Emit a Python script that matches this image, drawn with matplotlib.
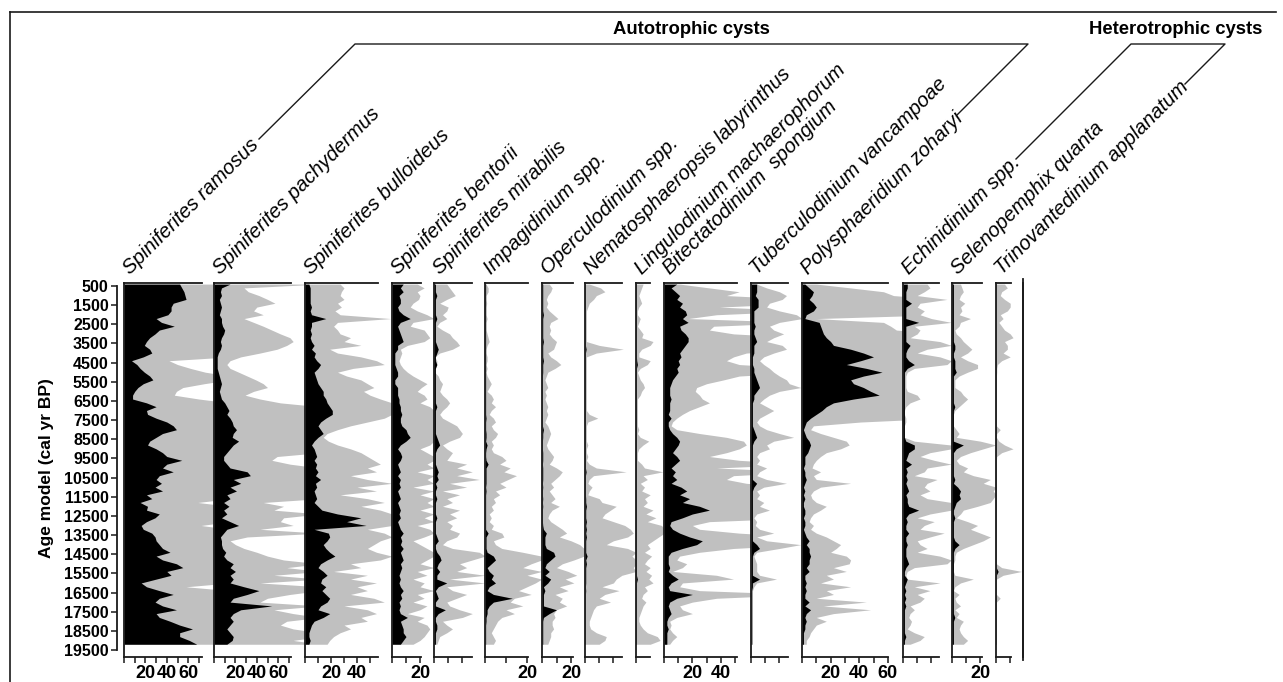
import matplotlib
matplotlib.use('Agg')
import matplotlib.pyplot as plt
from matplotlib.lines import Line2D
import numpy as np

plt.rcParams['font.family'] = ['Liberation Sans', 'DejaVu Sans']

# ---------------- data ----------------
AGES = list(range(400, 19201, 200))   # sample ages, cal yr BP

taxa = ["Spiniferites ramosus", "Spiniferites pachydermus", "Spiniferites bulloideus",
        "Spiniferites bentorii", "Spiniferites mirabilis", "Impagidinium spp.",
        "Operculodinium spp.", "Nematosphaeropsis labyrinthus",
        "Lingulodinium machaerophorum", "Bitectatodinium  spongium",
        "Tuberculodinium vancampoae", "Polysphaeridium zoharyi",
        "Echinidinium spp.", "Selenopemphix quanta", "Trinovantedinium applanatum"]

pct_ramosus = [52,54,56,57,58,46,44,44,41,30, 35,47,33,29,24,21,19,24,26,18,
               7,12,15,19,24,27,18,13,10,8, 8,21,30,21,22,30,40,46,49,36,
               30,24,22,30,36,40,54,40,36,46, 33,30,35,29,36,21,26,15,22,21,
               33,29,21,16,18,26,29,30,33,36, 43,30,36,49,55,40,44,30,16,21,
               33,46,33,29,36,49,30,33,43,52, 64,52,52,61,68]
exg_ramosus = [99]*10 + [99]*10 + \
              [42,50,62,76,99,99,75,55,49,47] + [70]+[99]*9 + [99]*10 + \
              [99,99,99,99,99,99,99,69,99,99] + [99,99,99,72,99,99,99,99,99,99] + \
              [99]*9+[58] + [99]*10 + [99]*5

pct_pachydermus = [15,7,6,7,5,6,7,6,5,7, 7,8,10,9,7,6,7,6,4,3,
                   3,3,3,4,5,6,7,6,5,6, 7,10,12,14,12,15,17,18,21,18,
                   17,23,18,15,12,9,9,12,15,31, 34,18,25,15,21,12,15,9,14,9,
                   12,7,15,23,12,9,6,7,7,8, 11,9,12,18,15,20,15,18,15,28,
                   42,31,18,15,54,25,18,15,18,15, 12,15,18,17,12]
exg_pachydermus = [99,28,32,42,50,57,40,37,46,28, 37,46,54,62,71,74,68,59,43,25,
                   15,12,15,23,31,39,46,50,37,29, 43,62,99,99,99,99,99,99,99,99,
                   99,99,99,99,99,59,54,71,99,99, 99,99,99,99,99,99,99,46,65,56,
                   99,65,62,74,43,99,31,15,20,28, 40,50,65,99,68,99,56,99,43,99,
                   99,71,50,43,99,56,74,99,68,62, 74,99,99,74,99]

pct_bulloideus = [3,4,4,4,4,4,5,4,5,16, 5,5,4,5,4,5,7,5,8,7,
                  9,12,10,7,8,9,10,12,14,14, 16,17,19,21,21,16,12,10,12,14,
                  10,7,5,7,8,9,7,9,8,10, 8,12,8,9,7,8,9,7,10,13,
                  25,43,32,47,7,18,19,17,14,16, 19,23,17,12,10,14,17,13,12,16,
                  13,16,19,17,12,10,19,14,7,5, 4,3,3,4,3]
exg_bulloideus = [27,30,28,27,30,25,28,23,27,66, 25,22,25,27,35,30,43,19,25,43,
                  55,61,37,25,32,43,48,53,45,50, 58,67,67,67,67,61,48,35,25,17,
                  14,18,25,35,43,48,53,58,48,55, 35,48,67,40,55,27,48,61,43,58,
                  67,67,67,67,48,61,67,58,53,48, 55,67,58,35,43,22,48,35,55,40,
                  48,35,53,61,30,48,55,43,48,30, 35,27,22,19,17]

pct_bentorii = [8,6,8,5,6,6,4,5,8,13, 6,4,5,6,7,8,4,4,2,2,
                2,2,3,4,4,2,2,4,4,4, 5,5,6,6,7,6,6,7,10,11,
                13,10,6,4,6,7,6,4,5,6, 4,6,5,6,4,5,6,4,5,6,
                5,6,4,5,6,8,6,7,6,8, 6,7,8,6,7,6,5,6,5,6,
                8,6,7,5,6,5,6,11,6,7, 8,8,10,8,6]
exg_bentorii = [18,23,18,20,19,15,13,18,25,30, 15,13,23,25,27,23,11,6,7,6,
                5,6,8,11,15,20,25,21,18,23, 25,20,27,30,30,30,30,30,30,30,
                30,30,27,20,25,30,30,25,30,18, 30,25,30,15,30,20,30,25,30,20,
                30,23,30,18,27,30,23,15,20,25, 30,30,25,20,30,18,25,15,23,20,
                30,18,23,15,25,20,11,23,18,25, 27,25,23,20,15]

pct_mirabilis = [1,1,1,2,1,1,1,1,1,2, 1,1,1,1,1,1,2,3,2,1,
                 1,2,1,1,1,1,1,1,1,1, 1,1,2,1,1,1,1,1,1,1,
                 2,3,4,2,1,1,1,1,2,3, 2,3,1,2,1,1,2,1,1,1,
                 1,2,1,1,1,1,2,3,1,1, 2,4,5,3,2,4,2,2,9,3,
                 1,2,3,1,1,8,3,1,1,2, 2,1,1,1,1]
exg_mirabilis = [9,11,13,15,9,4,10,9,6,9, 4,2,6,11,13,16,18,13,4,0.5,
                 2,2,0.5,0.5,3,4,6,5,4,6, 9,11,9,6,4,6,11,16,18,20,
                 18,11,6,9,13,11,9,23,16,27, 16,32,11,23,6,18,9,13,6,18,
                 11,16,9,13,11,18,16,9,6,13, 32,36,27,18,23,16,36,11,36,9,
                 13,23,16,9,11,18,27,20,6,9, 13,9,4,3,2]

pct_impagidinium = [0.3]*10 + [0.3]*10 + [0.3]*10 + \
                   [0.3,0.3,0.3,0.3,0.3,0.5,0.3,0.3,0.3,0.5] + \
                   [0.5,0.3,1,0.5,0.3,0.3,0.5,1.5,0.5,0.5] + \
                   [0.5,0.5,0.5,0.3,0.5,0.3,0.3,0.3,0.3,0.3] + \
                   [0.3,0.3,0.3,0.3,0.3,1.5,0.5,0.5,0.5,0.5] + \
                   [1,4,5,3,1,2,4,3,5,2] + [1,4,13,4,2,1,1,0.5,0.5,0.3] + [0.3]*5
exg_impagidinium = [0.5,1.5,1.5,0.5,0.5,0.8,0.5,0.5,0.5,1, 0.5,0.5,0.5,1,1.5,2,1,0.5,0.5,1,
                    1,0.5,1,0.5,1,2,3,2,1,3, 4,3,5,3,2,4,5,3,4,6,
                    5,3,4,3,4,8,10,7,12,9, 15,11,7,10,5,7,4,5,3,4,
                    2,3,2,4,3,8,9,4,5,8, 18,27,27,22,18,27,20,27,24,20,
                    16,22,14,12,18,10,14,8,6,5, 4,3,4,5,4]

pct_operculodinium = [0.5,0.5,0.5,0.5,0.5,0.5,0.5,0.5,1,0.5, 0.5,0.5,0.5,0.5,0.5,1,0.5,0.5,0.5,0.5,
                      1,0.5,0.5,0.5,0.3,0.3,0.3,0.3,0.3,0.3, 0.3,0.3,0.3,0.3,0.3,0.3,0.3,0.3,1,0.5,
                      0.5,0.3,0.3,0.3,0.5,0.5,0.5,0.3,0.5,0.5, 0.5,0.5,0.3,0.5,0.3,0.3,0.5,0.3,0.5,0.3,
                      0.3,0.3,0.3,0.5,1,3,2,2,2,3, 8,9,6,3,2,5,2,6,4,1,
                      2,1,1,1,1,10,5,1,0.5,0.5, 0.5,0.5,0.5,0.5,0.5]
exg_operculodinium = [5,7,6,4,3,4,3,5,8,11, 6,5,6,5,7,10,9,8,4,6,
                      10,13,9,4,3,2,3,4,2,3, 2,3,4,3,4,3,2,4,5,6,
                      5,4,3,4,6,8,7,5,10,14, 12,9,6,8,5,7,9,6,12,7,
                      5,4,6,10,14,17,12,20,26,29, 29,29,22,14,10,18,24,16,22,12,
                      18,9,14,12,17,10,8,9,7,7, 8,6,6,5,4]

pct_nematosphaeropsis = [0.3]*10 + [0.3,0.3,0.3,0.3,0.3,0.3,0.3,0.8,0.3,0.3] + [0.3]*10 + [0.3]*10 + \
                        [0.3,0.3,0.3,0.3,0.3,0.3,0.3,0.3,0.3,0.8] + \
                        [0.3,0.3,0.3,0.3,0.3,0.3,0.5,0.5,1,0.5] + \
                        [0.5,0.5,1,0.5,1,0.5,1,0.5,0.5,0.5] + \
                        [0.5,1.5,0.5,1,0.5,0.5,0.5,0.5,0.5,0.3] + [0.5]+[0.3]*9 + [0.3]*5
exg_nematosphaeropsis = [3,11,14,8,6,3,2,1,1,1, 1,1,1,1,1,1,10,27,8,1,
                         1,1,1,1,1,1,1,1,1,1, 1,1,1,1,3,9,2,1,1,1,
                         1,1,2,1,1,2,1,3,8,29, 6,3,2,5,3,2,10,12,22,18,
                         14,12,20,28,32,34,30,20,15,30, 36,33,36,36,34,36,26,22,20,12,
                         24,14,10,18,8,6,5,4,3,3, 4,8,15,14,10]

pct_lingulodinium = [0.3]*20 + [0.5,1,0.3,0.3,0.3,0.3,0.3,0.3,0.3,0.3] + [0.3]*40 + \
                    [0.3,0.3,0.3,0.3,0.3,0.3,0.3,1,0.3,0.3] + [0.3]*15
exg_lingulodinium = [5,4,3,2,3,4,2,1,1,3, 2,1,3,5,4,12,10,4,2,2,
                     10,8,3,1,2,3,5,6,4,3, 1,1,1,1,1,1,1,1,2,1,
                     3,9,5,2,1,1,1,4,6,19, 5,8,3,6,4,10,6,8,5,12,
                     7,14,8,18,20,20,16,12,8,10, 6,11,8,6,10,7,11,9,12,6,
                     8,5,4,7,5,4,3,2,2,3, 5,8,15,17,10]

pct_bitectatodinium = [9,5,8,11,9,13,11,15,16,13, 17,11,12,15,17,17,15,13,11,12,
                       10,11,9,10,8,6,5,4,4,4, 5,4,4,4,3,5,3,3,4,6,
                       9,11,10,8,6,9,11,8,5,8, 6,9,5,12,16,11,18,13,25,32,
                       20,13,5,4,6,11,18,27,23,13, 5,3,3,3,4,3,6,10,5,3,
                       4,20,9,4,3,4,5,3,2,2, 3,2,2,2,2]
exg_bitectatodinium = [11,32,53,44,99,99,39,99,37,17, 99,35,32,49,99,99,99,99,58,49,
                       44,53,99,99,53,42,30,23,22,25, 27,32,25,18,13,9,6,5,9,25,
                       44,56,58,53,44,32,53,99,37,99, 49,44,58,99,99,99,99,99,99,99,
                       99,99,32,20,25,53,99,99,99,49, 25,11,9,16,13,6,37,49,13,11,
                       25,99,37,20,11,13,20,9,4,5, 4,6,9,6,4]

pct_tuberculodinium = [4,4,4,3,5,5,5,2,2,2, 2,3,2,2,3,4,2,2,2,1,
                       1,1,2,2,3,4,5,6,4,2, 2,1,1,1,1,1,1,1,2,3,
                       4,2,1,1,1,1,1,1,1,1, 1,1,4,2,1,1,1,1,1,1,
                       1,1,1,1,1,1,1,1,4,6, 2,1,1,1,1,1,1,6,1,1,
                       0.5,0.5,0.5,0.5,0.5,0.5,0.5,0.5,0.5,0.5, 0.5,0.5,0.5,0.5,0.5]
exg_tuberculodinium = [4,11,20,25,22,13,11,20,32,36, 20,13,16,23,16,11,22,25,16,9,
                       6,9,13,16,20,25,27,35,20,13, 9,6,11,16,11,6,4,6,11,20,
                       30,16,11,13,6,4,6,4,11,6, 4,11,25,9,4,6,4,9,6,13,
                       4,2,4,3,6,16,4,11,35,20, 4,2,3,4,4,4,6,18,4,2,
                       1,1,1,1,1,1,1,1,1,1, 1,1,1,1,1]

pct_polysphaeridium = [2,5,8,7,5,8,10,8,3,2, 12,13,14,15,17,20,22,34,43,50,
                       41,31,45,56,43,34,36,43,48,54, 36,22,17,14,10,6,3,2,1,2,
                       3,5,6,5,4,2,2,2,1,2, 2,3,2,1,2,1,2,1,1,2,
                       2,1,2,2,1,2,3,5,3,5, 5,6,5,5,3,5,2,2,3,2,
                       3,2,2,5,2,6,3,2,3,2, 2,1,1,1,1]
exg_polysphaeridium = [10,34,57,64,99,99,99,99,99,10, 57,62,66,99,99,99,99,99,99,99,
                       99,99,99,99,99,99,99,99,99,99, 99,99,99,99,99,99,41,8,6,13,
                       22,31,33,27,17,13,10,8,7,13, 8,10,34,13,8,6,7,10,17,13,
                       8,6,5,8,6,10,17,22,27,24, 20,31,34,33,22,31,17,22,13,34,
                       17,22,10,45,15,48,22,10,17,10, 8,6,5,3,3]

pct_echinidinium = [3,3,2,2,2,6,2,2,2,2, 11,2,2,2,2,2,5,3,2,2,
                    4,8,3,1,1,1,1,1,1,1, 1,1,1,1,1,1,1,1,1,1,
                    1,2,8,8,4,3,2,6,2,3, 2,3,2,3,4,2,3,3,4,11,
                    4,2,3,2,2,4,2,2,3,2, 2,2,3,4,2,1,1,3,2,1,
                    2,1,2,1,2,1,1,1,1,1, 1,1,2,1,1]
exg_echinidinium = [17,19,15,10,31,12,10,15,12,20, 34,8,12,10,5,26,34,17,10,26,
                    34,31,8,3,2,2,2,2,3,10, 12,5,2,1,1,2,2,1,1,1,
                    1,8,34,34,19,12,22,34,17,15, 8,24,17,15,19,12,17,34,34,34,
                    19,10,22,15,12,29,19,10,12,17, 10,26,34,31,8,3,2,3,26,8,
                    19,10,15,12,5,8,5,4,6,5, 3,8,15,12,5]

pct_selenopemphix = [1,1,1,1,1,1,1,1,1,1, 1,1,1,1,1,1,2,2,1,1,
                     2,2,2,3,1,1,1,1,1,1, 1,1,2,1,1,1,1,1,1,1,
                     1,1,8,3,1,1,1,1,1,1, 1,2,1,4,6,5,6,3,2,1,
                     1,2,1,1,1,1,1,2,5,2, 1,1,1,1,1,1,1,1,1,1,
                     1,1,1,1,1,1,1,2,1,1, 1,1,1,1,1]
exg_selenopemphix = [6,7,8,6,5,9,6,7,5,13, 6,5,2,3,6,8,11,14,11,6,
                     11,18,18,11,5,2,2,2,6,8, 11,8,5,2,1,1,1,1,3,5,
                     3,20,31,22,13,6,3,5,11,8, 15,27,22,31,29,31,29,27,18,8,
                     6,3,11,18,13,20,27,22,15,8, 3,2,2,1,1,1,2,15,6,2,
                     1,5,2,3,6,2,5,3,8,6, 5,6,8,11,8]

pct_trinovantedinium = [0.2]*75 + [1.5] + [0.2]*19
exg_trinovantedinium = [6,8,4,3,6,10,10,8,3,5, 2,4,6,10,12,6,8,8,5,10,
                        4,1,0.5,0.5,0.3,0.3,0.3,0.3,0.3,0.3, 0.3,0.3,0.3,0.3,0.3,0.3,0.3,0.3,3,0.5,
                        0.3,2,6,12,4,0.5,0.3,0.3,0.3,0.3, 0.3,0.3,0.3,0.3,0.3,0.3,0.3,0.3,0.3,0.3,
                        0.3,0.3,0.3,0.3,0.3,0.3,0.3,0.3,0.3,0.3, 0.3,0.3,0.3,0.3,4,18,5,0.3,0.3,0.3,
                        0.3,0.3,3,0.3,0.3,0.3,0.3,0.3,0.3,0.3, 0.3,0.3,0.3,0.3,0.3]

pct_series = [pct_ramosus, pct_pachydermus, pct_bulloideus, pct_bentorii, pct_mirabilis,
              pct_impagidinium, pct_operculodinium, pct_nematosphaeropsis, pct_lingulodinium,
              pct_bitectatodinium, pct_tuberculodinium, pct_polysphaeridium,
              pct_echinidinium, pct_selenopemphix, pct_trinovantedinium]
exg_series = [exg_ramosus, exg_pachydermus, exg_bulloideus, exg_bentorii, exg_mirabilis,
              exg_impagidinium, exg_operculodinium, exg_nematosphaeropsis, exg_lingulodinium,
              exg_bitectatodinium, exg_tuberculodinium, exg_polysphaeridium,
              exg_echinidinium, exg_selenopemphix, exg_trinovantedinium]

age_ticks = list(range(500, 19501, 1000))
labelled_ticks = [[20, 40, 60], [20, 40, 60], [20, 40], [20], [], [20], [20], [], [],
                  [20, 40], [], [20, 40, 60], [], [20], []]

# ---------------- layout (pixels of the 1283x682 canvas) ----------------
W, H = 1283, 682
AX_X = [124, 214, 305, 392, 434, 485, 542, 585, 636, 664, 751, 802, 903, 952, 996]
X_END = 1023
PX_PER = [1.07, 1.07, 1.30, 1.40, 1.42, 2.10, 1.45, 1.42, 1.42, 1.42, 1.42, 1.43, 1.42, 1.42, 1.42]
EXT_PX = [78, 77, 73, 29, 38, 43, 31, 37, 14, 73, 37, 86, 36, 30, 15]
Y_TOP, Y_BOT = 283, 657


def age_at(y):
    return 500 + (y - 286) / 0.019158


def fx(x):
    return x / W


def fy(y):
    return 1 - y / H


fig = plt.figure(figsize=(W / 100, H / 100), dpi=100)
GREY = '#c0c0c0'
LINEC = '#1a1a1a'

ylims = (age_at(Y_BOT), age_at(Y_TOP))

for i in range(len(taxa)):
    x0 = AX_X[i]
    x1 = AX_X[i + 1] if i + 1 < len(AX_X) else X_END
    ax = fig.add_axes([fx(x0), fy(Y_BOT), (x1 - x0) / W, (Y_BOT - Y_TOP) / H])
    ax.set_facecolor('none')
    xmax = (x1 - x0) / PX_PER[i]
    ext = EXT_PX[i] / PX_PER[i]
    ax.fill_betweenx(AGES, 0, exg_series[i], color=GREY, lw=0)
    ax.fill_betweenx(AGES, 0, pct_series[i], color='black', lw=0)
    ax.set_xlim(0, xmax)
    ax.set_ylim(*ylims)
    ax.set_yticks([])
    for s in ['top', 'bottom', 'left', 'right']:
        ax.spines[s].set_color(LINEC)
        ax.spines[s].set_linewidth(1.3)
    ax.spines['right'].set_visible(i == len(taxa) - 1)
    ax.spines['top'].set_bounds(0, ext)
    ax.spines['bottom'].set_bounds(0, ext)
    ticks = list(np.arange(0, ext + 0.01, 10))
    ax.set_xticks(ticks)
    ax.set_xticklabels([str(int(t)) if int(t) in labelled_ticks[i] else '' for t in ticks],
                       fontsize=13, fontweight='bold')
    ax.tick_params(axis='x', direction='out', length=4, width=1.1, pad=1.5, color=LINEC)
    fig.text(fx(x0 + 6), fy(275), taxa[i], rotation=45, rotation_mode='anchor',
             ha='left', va='baseline', fontsize=14.5, fontstyle='italic')

# age axis
axa = fig.add_axes([fx(117), fy(Y_BOT), 0.0005, (Y_BOT - Y_TOP) / H])
axa.set_facecolor('none')
axa.set_ylim(*ylims)
axa.set_xticks([])
for s in ['top', 'bottom', 'right']:
    axa.spines[s].set_visible(False)
axa.spines['left'].set_bounds(age_ticks[0], age_ticks[-1])
axa.spines['left'].set_linewidth(1.3)
axa.spines['left'].set_color(LINEC)
axa.set_yticks(age_ticks)
axa.set_yticklabels([str(a) for a in age_ticks], fontsize=11.5, fontweight='bold')
axa.tick_params(axis='y', direction='out', length=4, width=1.1, pad=2, color=LINEC)
fig.text(fx(47), fy(468), 'Age model (cal yr BP)', rotation=90, ha='center', va='center',
         fontsize=12.5, fontweight='bold')


def pline(xs, ys, lw=1.0, color=LINEC):
    fig.add_artist(Line2D([fx(x) for x in xs], [fy(y) for y in ys], color=color, lw=lw))


# right-hand closing line of the diagram
pline([X_END, X_END], [279, 660], lw=1.3)

# group brackets
pline([259, 355, 1028, 957], [139, 44, 44, 115])
pline([1016, 1131, 1225, 1185], [159, 44, 44, 84])
fig.text(fx(691), fy(30), 'Autotrophic cysts', ha='center', va='center',
         fontsize=13.3, fontweight='bold')
fig.text(fx(1176), fy(30), 'Heterotrophic cysts', ha='center', va='center',
         fontsize=13.3, fontweight='bold')

# outer frame
pline([10, 1276], [12, 12], lw=1.2)
pline([10, 10], [12, 682], lw=1.2)

fig.savefig('out.png', dpi=100)
